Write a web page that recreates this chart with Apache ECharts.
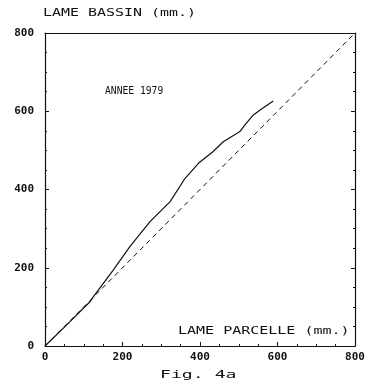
<!DOCTYPE html>
<html>
<head>
<meta charset="utf-8">
<script src="https://cdn.jsdelivr.net/npm/echarts@6/dist/echarts.min.js"></script>
<style>html,body{margin:0;padding:0;background:#fff;}#c{width:371px;height:389px;}</style>
</head>
<body>
<div id="c"></div>
<script>
// Data (LAME PARCELLE, LAME BASSIN) in mm
var parcelle = [0, 60, 116, 125, 176, 219, 271, 323, 361, 396, 434, 460, 503, 516, 537, 555, 589];
var bassin   = [0, 58, 113, 126, 194, 254, 318, 369, 428, 467, 497, 522, 548, 565, 590, 603, 626];
var refX = [0, 800];
var refY = [0, 800];
var tickValues = [0, 200, 400, 600, 800];

var chart = echarts.init(document.getElementById('c'), null, {renderer: 'canvas'});
var font = 'DejaVu Sans Mono';
var black = '#111';

function pairs(a, b) { return a.map(function (v, i) { return [v, b[i]]; }); }

var axisCommon = {
  type: 'value', min: 0, max: 800, interval: 200,
  axisLine: {show: true, onZero: false, lineStyle: {color: black, width: 1.2}},
  axisTick: {show: true, inside: true, length: 4, lineStyle: {color: black}},
  minorTick: {show: true, splitNumber: 4, length: 2, lineStyle: {color: black}},
  splitLine: {show: false},
  axisLabel: {show: false}
};

var option = {
  animation: false,
  backgroundColor: '#fff',
  grid: {left: 45, right: 16, top: 33, bottom: 43, containLabel: false},
  xAxis: [
    Object.assign({}, axisCommon, {
      position: 'bottom',
      axisLabel: {show: true, color: black, fontFamily: font, fontWeight: 'bold', fontSize: 11, margin: 6,
        formatter: function (v) { return tickValues.indexOf(v) >= 0 ? String(v) : ''; }}
    }),
    Object.assign({}, axisCommon, {position: 'top', minorTick: {show: false}, axisTick: {show: false}})
  ],
  yAxis: [
    Object.assign({}, axisCommon, {
      position: 'left',
      axisLabel: {show: true, color: black, fontFamily: font, fontWeight: 'bold', fontSize: 11, margin: 11,
        formatter: function (v) { return tickValues.indexOf(v) >= 0 ? String(v) : ''; }}
    }),
    Object.assign({}, axisCommon, {position: 'right'})
  ],
  series: [
    {
      type: 'line', data: pairs(refX, refY), symbol: 'none',
      lineStyle: {color: black, width: 1, type: [5, 4]}, z: 2
    },
    {
      type: 'line', data: pairs(parcelle, bassin), symbol: 'none',
      lineStyle: {color: black, width: 1.2}, z: 3
    }
  ],
  graphic: [
    {type: 'text', x: 43, y: 8, scaleX: 1.36, style: {text: 'LAME BASSIN (mm.)', font: '11px "DejaVu Sans Mono"', fill: black}},
    {type: 'text', x: 105, y: 86, scaleX: 0.88, style: {text: 'ANNEE 1979', font: '11px "DejaVu Sans Mono"', fill: black}},
    {type: 'text', x: 178, y: 326, scaleX: 1.5, style: {text: 'LAME PARCELLE (mm.)', font: '10px "DejaVu Sans Mono"', fill: black}},
    {type: 'text', x: 160, y: 370, scaleX: 1.65, style: {text: 'Fig. 4a', font: '11px "DejaVu Sans Mono"', fill: black}}
  ]
};
chart.setOption(option);
</script>
</body>
</html>
